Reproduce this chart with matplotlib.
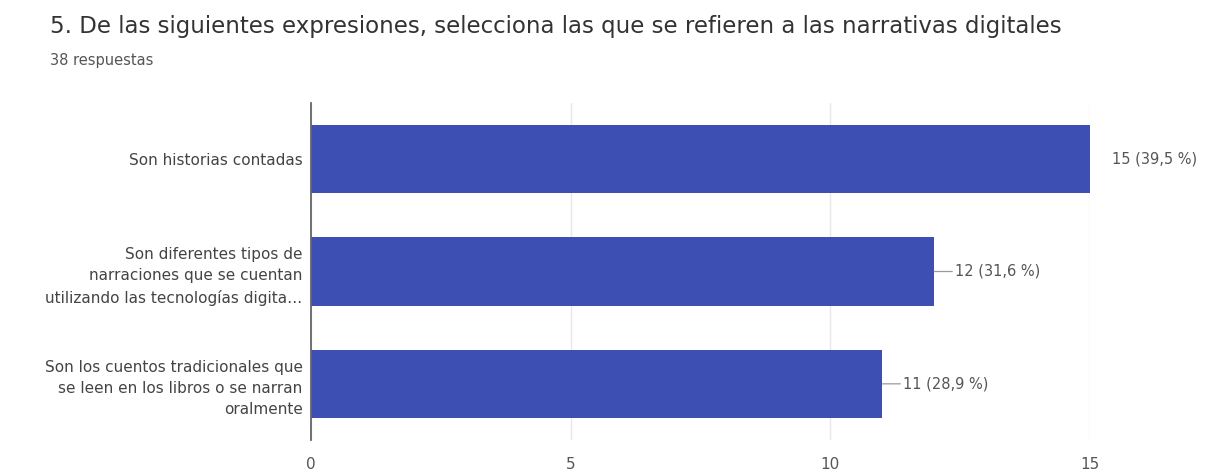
import matplotlib.pyplot as plt

categories = [
    "Son historias contadas",
    "Son diferentes tipos de\nnarraciones que se cuentan\nutilizando las tecnologías digita…",
    "Son los cuentos tradicionales que\nse leen en los libros o se narran\noralmente",
]
counts = [15, 12, 11]
percents = ["39,5", "31,6", "28,9"]
xticks = [0, 5, 10, 15]

title = "5. De las siguientes expresiones, selecciona las que se refieren a las narrativas digitales"
subtitle = "38 respuestas"

plt.rcParams['font.family'] = ['DejaVu Sans']

W, H = 1223, 472
fig = plt.figure(figsize=(W / 100, H / 100), dpi=100)
# axes box in pixels: x 311..1090, y 103..440
ax = fig.add_axes([311 / W, 1 - 440 / H, (1090 - 311) / W, (440 - 103) / H])

ypos = list(range(len(categories)))
ax.barh(ypos, counts, height=0.61, color='#3d4fb3', zorder=3)

ax.set_ylim(2.5, -0.5)
ax.set_xlim(0, 15)
ax.set_xticks(xticks)
ax.set_xticklabels([str(t) for t in xticks], fontsize=11, color='#555555')
ax.set_yticks(ypos)
ax.set_yticklabels(categories, fontsize=11, color='#444444', linespacing=1.5)
ax.tick_params(axis='both', length=0)
ax.tick_params(axis='x', pad=12)
ax.tick_params(axis='y', pad=6)

ax.grid(axis='x', color='#e8e8e8', linewidth=1, zorder=0)
for s in ['top', 'right', 'bottom']:
    ax.spines[s].set_visible(False)
ax.spines['left'].set_color('#666666')
ax.spines['left'].set_linewidth(1.3)
ax.spines['left'].set_zorder(4)

for y, c, p in zip(ypos, counts, percents):
    label = f"{c} ({p} %)"
    if c == max(counts):
        ax.annotate(label, xy=(c, y), xytext=(16, 0), textcoords='offset points',
                    va='center', ha='left', fontsize=10.5, color='#555555',
                    annotation_clip=False)
    else:
        ax.annotate(label, xy=(c, y), xytext=(15, 0), textcoords='offset points',
                    va='center', ha='left', fontsize=10.5, color='#555555',
                    arrowprops=dict(arrowstyle='-', color='#999999', lw=0.9,
                                    shrinkA=0, shrinkB=0),
                    annotation_clip=False)

fig.text(50 / W, 1 - 26 / H, title, fontsize=16.5, color='#333333', va='center', ha='left')
fig.text(50 / W, 1 - 60 / H, subtitle, fontsize=10.5, color='#555555', va='center', ha='left')

fig.savefig('out.png', dpi=100, facecolor='white')
